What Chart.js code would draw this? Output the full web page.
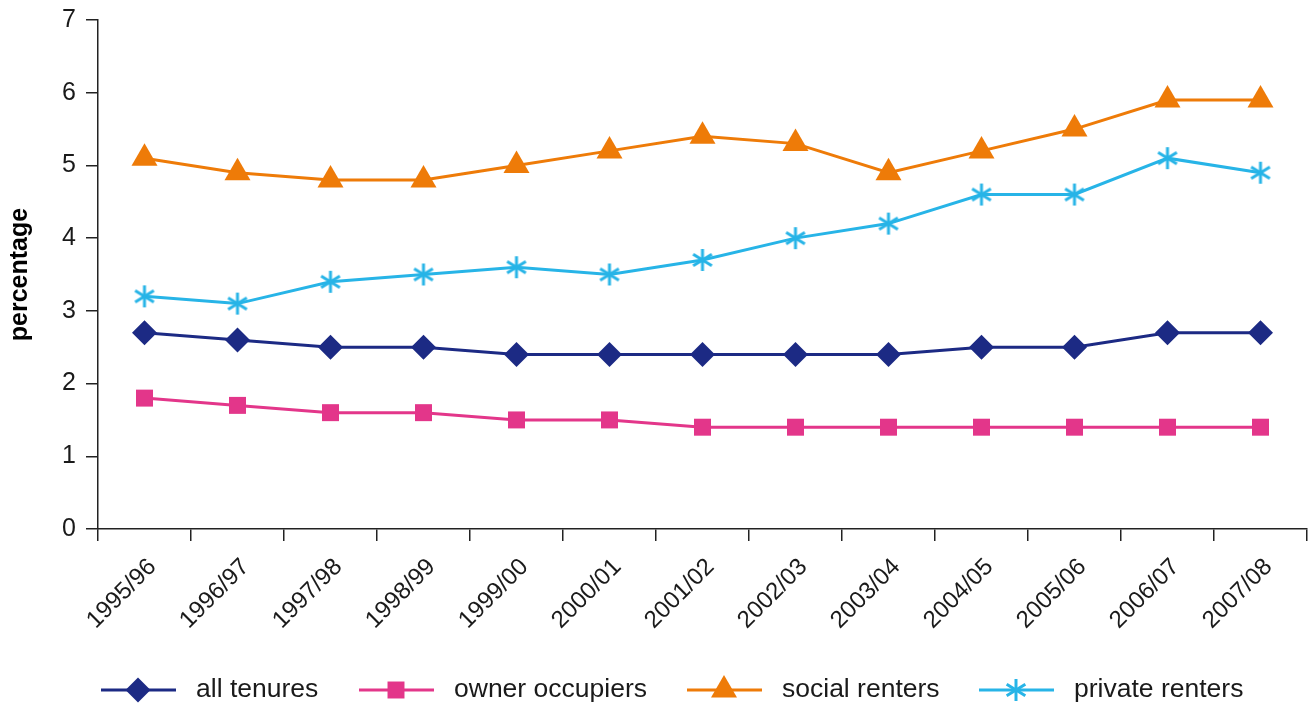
<!DOCTYPE html>
<html>
<head>
<meta charset="utf-8">
<script src="https://cdn.jsdelivr.net/npm/chart.js@4.4.1/dist/chart.umd.min.js"></script>
<style>
  html, body { margin: 0; padding: 0; background: #fff; }
  canvas { display: block; }
</style>
</head>
<body>
<canvas id="chart" width="1314" height="705"></canvas>
<script>
// Years on the x axis
const years = ['1995/96', '1996/97', '1997/98', '1998/99', '1999/00', '2000/01', '2001/02',
  '2002/03', '2003/04', '2004/05', '2005/06', '2006/07', '2007/08'];

// Percentages per tenure
const allTenures = [2.7, 2.6, 2.5, 2.5, 2.4, 2.4, 2.4, 2.4, 2.4, 2.5, 2.5, 2.7, 2.7];
const ownerOccupiers = [1.8, 1.7, 1.6, 1.6, 1.5, 1.5, 1.4, 1.4, 1.4, 1.4, 1.4, 1.4, 1.4];
const socialRenters = [5.1, 4.9, 4.8, 4.8, 5.0, 5.2, 5.4, 5.3, 4.9, 5.2, 5.5, 5.9, 5.9];
const privateRenters = [3.2, 3.1, 3.4, 3.5, 3.6, 3.5, 3.7, 4.0, 4.2, 4.6, 4.6, 5.1, 4.9];

const yTicks = [0, 1, 2, 3, 4, 5, 6, 7];

const FONT = "'Liberation Sans', Arial, sans-serif";
const TEXT = '#1a1a1a';

// six-armed asterisk marker, drawn once onto a small canvas
function makeAsterisk(color) {
    const c = document.createElement('canvas');
    c.width = 26; c.height = 26;
    const g = c.getContext('2d');
    g.strokeStyle = color;
    g.lineWidth = 3;
    g.lineCap = 'butt';
    const r = 11;
    [0, 58, -58].forEach(deg => {
        const a = deg * Math.PI / 180;
        const dx = Math.sin(a) * r, dy = Math.cos(a) * r;
        g.beginPath();
        g.moveTo(13 - dx, 13 - dy);
        g.lineTo(13 + dx, 13 + dy);
        g.stroke();
    });
    return c;
}

const series = [
    { label: 'all tenures', data: allTenures, color: '#1c2a84', pointStyle: 'rectRot', radius: 12.5 },
    { label: 'owner occupiers', data: ownerOccupiers, color: '#e3368a', pointStyle: 'rect', radius: 12 },
    { label: 'social renters', data: socialRenters, color: '#ee7b08', pointStyle: 'triangle', radius: 15 },
    { label: 'private renters', data: privateRenters, color: '#27b4e7', pointStyle: makeAsterisk('#27b4e7'), radius: 12 }
];

// legend drawn underneath: short line with the marker on it, then the label
const lineLegend = {
    id: 'lineLegend',
    afterDraw(chart) {
        const ctx = chart.ctx;
        const y = 690;
        const starts = [101, 359, 687, 979];
        ctx.save();
        ctx.font = '26.5px ' + FONT;
        ctx.textBaseline = 'middle';
        series.forEach((s, i) => {
            const x0 = starts[i];
            ctx.strokeStyle = s.color;
            ctx.lineWidth = 3;
            ctx.beginPath();
            ctx.moveTo(x0, y);
            ctx.lineTo(x0 + 75, y);
            ctx.stroke();
            ctx.fillStyle = s.color;
            Chart.helpers.drawPoint(ctx, { pointStyle: s.pointStyle, radius: s.radius, rotation: 0, borderWidth: 0 }, x0 + 37, y);
            ctx.fillStyle = TEXT;
            ctx.fillText(s.label, x0 + 95, y);
        });
        ctx.restore();
    }
};

new Chart(document.getElementById('chart'), {
    type: 'line',
    data: {
        labels: years,
        datasets: series.map(s => ({
            label: s.label,
            data: s.data,
            borderColor: s.color,
            backgroundColor: s.color,
            borderWidth: 3,
            pointStyle: s.pointStyle,
            pointRadius: s.radius,
            pointBorderWidth: 0,
            pointBackgroundColor: s.color,
            tension: 0
        }))
    },
    options: {
        responsive: false,
        animation: false,
        layout: { autoPadding: false, padding: { top: 20, right: 7, left: 0, bottom: 0 } },
        plugins: {
            legend: { display: false },
            tooltip: { enabled: false }
        },
        scales: {
            x: {
                offset: true,
                grid: { offset: true, drawOnChartArea: false, drawTicks: true, tickLength: 12, color: '#222', lineWidth: 1.5 },
                border: { display: true, color: '#222', width: 1.5 },
                ticks: {
                    autoSkip: false,
                    minRotation: 45,
                    maxRotation: 45,
                    padding: 12,
                    labelOffset: 8,
                    color: TEXT,
                    font: { family: FONT, size: 24 }
                },
                afterFit(scale) {
                    scale.height = 176;
                    scale.paddingLeft = 0;
                    scale.paddingRight = 0;
                }
            },
            y: {
                min: 0,
                max: 7,
                afterBuildTicks(scale) { scale.ticks = yTicks.map(v => ({ value: v })); },
                grid: { drawOnChartArea: false, drawTicks: true, tickLength: 12, color: '#222', lineWidth: 1.5 },
                border: { display: true, color: '#222', width: 1.5 },
                ticks: {
                    padding: 10,
                    color: TEXT,
                    font: { family: FONT, size: 25 }
                },
                title: {
                    display: true,
                    text: 'percentage',
                    color: '#000',
                    font: { family: FONT, size: 25, weight: 'bold' },
                    padding: { top: 5, bottom: 0 }
                },
                afterFit(scale) {
                    scale.width = 98;
                    scale.paddingTop = 0;
                    scale.paddingBottom = 0;
                }
            }
        }
    },
    plugins: [lineLegend]
});
</script>
</body>
</html>
